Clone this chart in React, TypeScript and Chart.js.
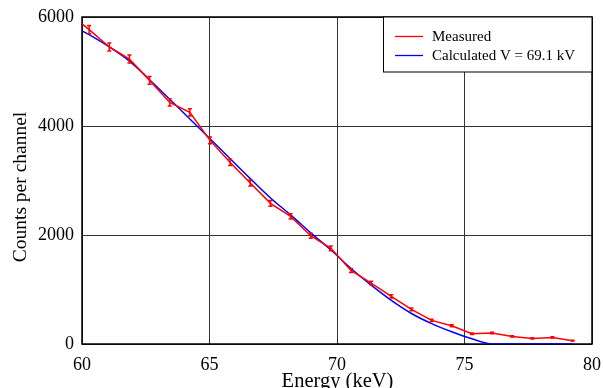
import React, { useEffect, useRef } from "react";
import { Chart, registerables } from "chart.js";

Chart.register(...registerables);

// Measured spectrum (energy in keV, counts per channel, Poisson error)
const measuredEnergy = [
  59.49, 60.28, 61.07, 61.86, 62.65, 63.44, 64.23, 65.02, 65.81, 66.6, 67.39, 68.18, 68.97,
  69.76, 70.55, 71.34, 72.13, 72.92, 73.71, 74.5, 75.29, 76.08, 76.87, 77.66, 78.45, 79.24,
];
const measuredCounts = [
  6075, 5767, 5450, 5229, 4837, 4433, 4250, 3736, 3332, 2954, 2580, 2341, 1987,
  1755, 1350, 1119, 873, 635, 433, 336, 189, 202, 139, 103, 121, 61,
];
const measuredError = [
  0, 76, 74, 72, 70, 67, 65, 61, 58, 54, 51, 48, 45,
  42, 37, 33, 30, 25, 21, 18, 14, 14, 12, 10, 11, 8,
];

// Calculated spectrum for V = 69.1 kV
const calcEnergy = [
  60.0, 60.28, 61.07, 61.86, 62.65, 63.44, 64.23, 65.02, 65.81, 66.6, 67.39, 68.18, 68.97,
  69.76, 70.55, 71.34, 72.13, 72.92, 73.71, 74.5, 75.29, 76.08, 76.87, 77.66, 78.45, 79.24,
];
const calcCounts = [
  5745, 5675, 5450, 5190, 4850, 4490, 4130, 3767, 3400, 3035, 2680, 2370, 2040,
  1725, 1385, 1080, 800, 560, 375, 225, 95, 0, 0, 0, 0, 0,
];

const xTicks = [60, 65, 70, 75, 80];
const yTicks = [0, 2000, 4000, 6000];

const seriesLabels = ["Measured", "Calculated V = 69.1 kV"];
const seriesColors = ["#ff0000", "#0000ff"];

const SERIF = "'Liberation Serif', 'Times New Roman', serif";

const decorPlugin = {
  id: "decor",
  beforeDatasetsDraw(chart: any) {
    const { ctx, chartArea: a } = chart;
    ctx.save();
    ctx.strokeStyle = "#000";
    ctx.lineWidth = 1.5;
    ctx.strokeRect(a.left, a.top, a.right - a.left, a.bottom - a.top);
    ctx.restore();
  },
  afterDatasetsDraw(chart: any) {
    const { ctx, chartArea: a, scales } = chart;
    const xs = scales.x;
    const ys = scales.y;
    ctx.save();
    ctx.beginPath();
    ctx.rect(a.left, a.top, a.right - a.left, a.bottom - a.top);
    ctx.clip();
    ctx.strokeStyle = seriesColors[0];
    ctx.lineWidth = 1.5;
    for (let i = 0; i < measuredEnergy.length; i++) {
      const e = measuredError[i];
      if (!e) continue;
      const px = xs.getPixelForValue(measuredEnergy[i]);
      const yT = ys.getPixelForValue(measuredCounts[i] + e);
      const yB = ys.getPixelForValue(measuredCounts[i] - e);
      ctx.beginPath();
      ctx.moveTo(px, yT);
      ctx.lineTo(px, yB);
      ctx.moveTo(px - 2, yT);
      ctx.lineTo(px + 2, yT);
      ctx.moveTo(px - 2, yB);
      ctx.lineTo(px + 2, yB);
      ctx.stroke();
    }
    ctx.restore();

    // legend box
    ctx.save();
    const bx = 383.5, by = a.top, bw = a.right - 383.5, bh = 55;
    ctx.fillStyle = "#fff";
    ctx.fillRect(bx, by, bw, bh);
    ctx.strokeStyle = "#000";
    ctx.lineWidth = 1;
    ctx.strokeRect(bx, by, bw, bh);
    ctx.font = `15px ${SERIF}`;
    ctx.textBaseline = "middle";
    ctx.textAlign = "left";
    const rows = [36.5, 55.5];
    for (let i = 0; i < 2; i++) {
      ctx.strokeStyle = seriesColors[i];
      ctx.lineWidth = 1.3;
      ctx.beginPath();
      ctx.moveTo(395, rows[i]);
      ctx.lineTo(423, rows[i]);
      ctx.stroke();
      ctx.fillStyle = "#000";
      ctx.fillText(seriesLabels[i], 432, rows[i] + 1);
    }
    ctx.restore();
  },
  afterDraw(chart: any) {
    const { ctx, chartArea: a } = chart;
    ctx.save();
    ctx.fillStyle = "#000";
    ctx.font = `20.5px ${SERIF}`;
    ctx.textAlign = "center";
    ctx.textBaseline = "alphabetic";
    ctx.fillText("Energy (keV)", 337.5, 387);
    ctx.font = `19.5px ${SERIF}`;
    ctx.translate(21, 187);
    ctx.rotate(-Math.PI / 2);
    ctx.textBaseline = "middle";
    ctx.fillText("Counts per channel", 0, 0);
    ctx.restore();
  },
};

export default function App() {
  const ref = useRef<HTMLCanvasElement | null>(null);
  useEffect(() => {
    if (!ref.current) return;
    const chart = new Chart(ref.current, {
      type: "line",
      data: {
        datasets: [
          {
            label: seriesLabels[1],
            data: calcEnergy.map((x, i) => ({ x, y: calcCounts[i] })),
            borderColor: seriesColors[1],
            borderWidth: 1.5,
            pointRadius: 0,
            cubicInterpolationMode: "monotone",
            order: 2,
          },
          {
            label: seriesLabels[0],
            data: measuredEnergy.map((x, i) => ({ x, y: measuredCounts[i] })),
            borderColor: seriesColors[0],
            borderWidth: 1.5,
            pointRadius: 0,
            tension: 0,
            order: 1,
          },
        ],
      },
      options: {
        animation: false,
        responsive: false,
        maintainAspectRatio: false,
        layout: { padding: { top: 17, right: 11, left: 0, bottom: 0 } },
        plugins: { legend: { display: false }, tooltip: { enabled: false } },
        scales: {
          x: {
            type: "linear",
            min: 60,
            max: 80,
            afterBuildTicks: (s: any) => {
              s.ticks = xTicks.map((v) => ({ value: v }));
            },
            afterFit: (s: any) => {
              s.height = 44;
              s.paddingLeft = 0;
              s.paddingRight = 0;
            },
            grid: { color: "#333", lineWidth: 1, drawTicks: false },
            border: { display: false },
            ticks: {
              color: "#000",
              font: { family: SERIF, size: 18 },
              padding: 10,
              maxRotation: 0,
            },
          },
          y: {
            type: "linear",
            min: 0,
            max: 6000,
            afterBuildTicks: (s: any) => {
              s.ticks = yTicks.map((v) => ({ value: v }));
            },
            afterFit: (s: any) => {
              s.width = 82;
              s.paddingTop = 0;
              s.paddingBottom = 0;
            },
            grid: { color: "#333", lineWidth: 1, drawTicks: false },
            border: { display: false },
            ticks: {
              color: "#000",
              font: { family: SERIF, size: 18 },
              padding: 8,
              callback: (v: any) => String(v),
            },
          },
        },
      },
      plugins: [decorPlugin],
    });
    return () => chart.destroy();
  }, []);
  return (
    <div style={{ position: "fixed", left: 0, top: 0, width: 603, height: 388, background: "#fff" }}>
      <canvas ref={ref} width={603} height={388} style={{ width: 603, height: 388 }} />
    </div>
  );
}
